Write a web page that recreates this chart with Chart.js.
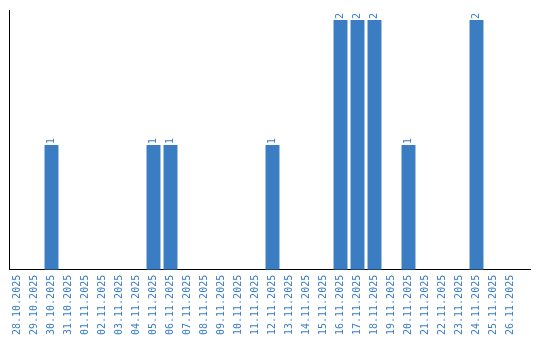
<!DOCTYPE html>
<html>
<head>
<meta charset="utf-8">
<script src="https://cdn.jsdelivr.net/npm/chart.js@4"></script>
<style>
  html, body { margin: 0; padding: 0; background: #fff; }
  #wrap { width: 540px; height: 340px; }
</style>
</head>
<body>
<div id="wrap"><canvas id="chart" width="540" height="340"></canvas></div>
<script>
// dates on the x axis
const dates = [
  '28.10.2025', '29.10.2025', '30.10.2025', '31.10.2025', '01.11.2025',
  '02.11.2025', '03.11.2025', '04.11.2025', '05.11.2025', '06.11.2025',
  '07.11.2025', '08.11.2025', '09.11.2025', '10.11.2025', '11.11.2025',
  '12.11.2025', '13.11.2025', '14.11.2025', '15.11.2025', '16.11.2025',
  '17.11.2025', '18.11.2025', '19.11.2025', '20.11.2025', '21.11.2025',
  '22.11.2025', '23.11.2025', '24.11.2025', '25.11.2025', '26.11.2025'
];
// count per day
const counts = [
  0, 0, 1, 0, 0,
  0, 0, 0, 1, 1,
  0, 0, 0, 0, 0,
  1, 0, 0, 0, 2,
  2, 2, 0, 1, 0,
  0, 0, 2, 0, 0
];

const blue = '#3b7dc2';
const labelFont = '10px "DejaVu Sans Mono", monospace';

// writes the value above each bar (rotated) and runs the x axis line a bit past the last bar
const valueLabels = {
  id: 'valueLabels',
  afterDatasetsDraw(chart) {
    const ctx = chart.ctx;
    const meta = chart.getDatasetMeta(0);
    ctx.save();
    ctx.font = labelFont;
    ctx.fillStyle = blue;
    ctx.textAlign = 'left';
    ctx.textBaseline = 'middle';
    meta.data.forEach((bar, i) => {
      const v = counts[i];
      if (!v) return;
      ctx.save();
      ctx.translate(bar.x, bar.y - 1);
      ctx.rotate(-Math.PI / 2);
      ctx.fillText(String(v), 0, 0);
      ctx.restore();
    });
    ctx.restore();
  },
  afterDraw(chart) {
    const { ctx, chartArea } = chart;
    const y = Math.round(chartArea.bottom) - 0.5;
    ctx.save();
    ctx.strokeStyle = '#000';
    ctx.lineWidth = 1;
    ctx.beginPath();
    ctx.moveTo(chartArea.right - 2, y);
    ctx.lineTo(chartArea.right + 12, y);
    ctx.stroke();
    ctx.restore();
  }
};

new Chart(document.getElementById('chart'), {
  type: 'bar',
  data: {
    labels: dates,
    datasets: [{
      data: counts,
      backgroundColor: blue,
      barPercentage: 0.82,
      categoryPercentage: 1
    }]
  },
  options: {
    responsive: false,
    animation: false,
    layout: { padding: { left: 9, top: 10, right: 21, bottom: 0 } },
    plugins: { legend: { display: false }, tooltip: { enabled: false } },
    scales: {
      x: {
        grid: { display: false, drawTicks: false },
        border: { display: true, color: '#000', width: 1 },
        ticks: {
          color: blue,
          font: { family: '"DejaVu Sans Mono", monospace', size: 10 },
          minRotation: 90,
          maxRotation: 90,
          autoSkip: false,
          padding: 5
        }
      },
      y: {
        min: 0,
        max: 2.08,
        grid: { display: false, drawTicks: false },
        border: { display: true, color: '#000', width: 1 },
        ticks: { display: false }
      }
    }
  },
  plugins: [valueLabels]
});
</script>
</body>
</html>
